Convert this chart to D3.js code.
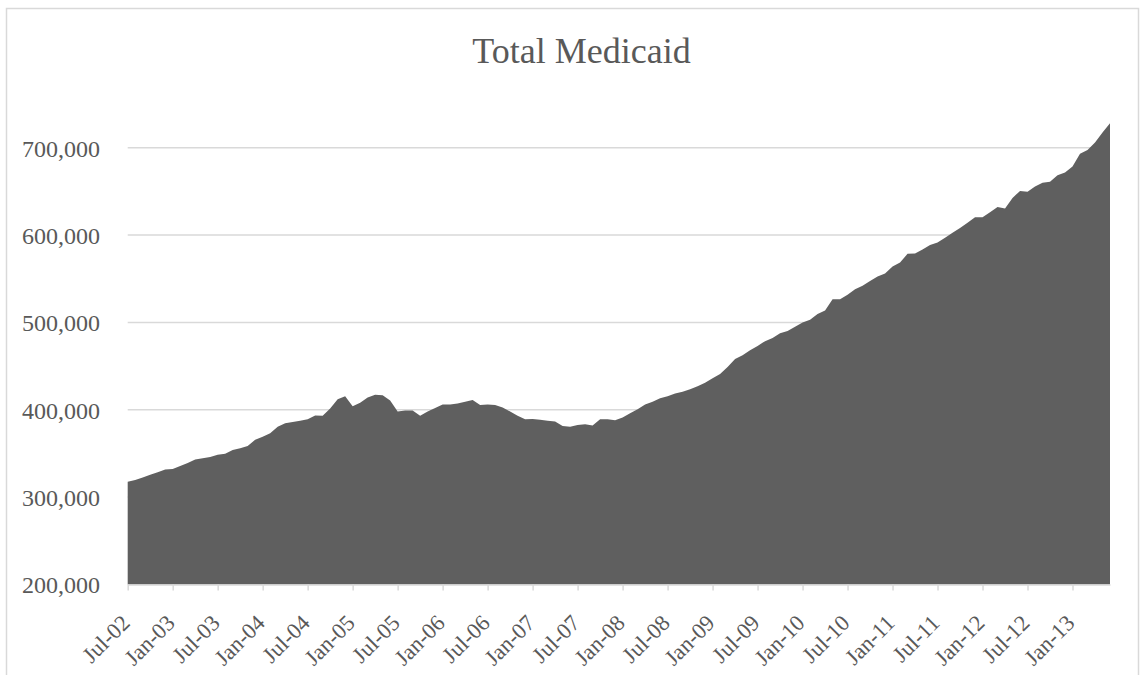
<!DOCTYPE html>
<html>
<head>
<meta charset="utf-8">
<script src="https://cdn.jsdelivr.net/npm/d3@7"></script>
<style>
  html, body { margin: 0; padding: 0; background: #ffffff; }
  svg { display: block; }
  text { font-family: "Liberation Serif", "Times New Roman", serif; fill: #595959; }
</style>
</head>
<body>
<svg id="chart" width="1146" height="675"></svg>
<script>
// Monthly enrollment, Jul 2002 through Jun 2013
const startMonth = "2002-07";
const enrollment = [
  317500, 319500, 322500, 325500, 328500, 331500, 332000, 335500, 339000, 343000, 344500, 346000,
  348500, 349500, 354000, 356000, 358500, 365500, 369000, 373000, 380500, 384500, 386000, 387500,
  389000, 393500, 393000, 401500, 412000, 415500, 404000, 408000, 414000, 417000, 416500, 410500,
  398000, 399000, 399000, 393000, 398000, 402000, 406000, 406000, 407000, 409000, 411000, 405500,
  406000, 405500, 402500, 398000, 393000, 389000, 389500, 388500, 387500, 386500, 381500, 380500,
  382500, 383500, 382000, 389000, 389000, 388000, 391000, 396000, 400500, 406000, 409000, 413000,
  415500, 418500, 420500, 423500, 427000, 431000, 436000, 441000, 449000, 458000, 462500, 468000,
  473000, 478500, 482000, 487500, 490000, 495000, 500000, 503000, 509500, 513500, 526500, 526500,
  531500, 538000, 542000, 547500, 552500, 556000, 564000, 568500, 578500, 579000, 583500, 588500,
  591500, 597000, 602500, 608000, 614000, 620500, 620500, 626000, 632000, 630500, 642500, 650500,
  649500, 655500, 660000, 661000, 668500, 671500, 678500, 693000, 697500, 706000, 717500, 728000
];
const xTickLabels = [
  "Jul-02", "Jan-03", "Jul-03", "Jan-04", "Jul-04", "Jan-05", "Jul-05", "Jan-06", "Jul-06",
  "Jan-07", "Jul-07", "Jan-08", "Jul-08", "Jan-09", "Jul-09", "Jan-10", "Jul-10", "Jan-11",
  "Jul-11", "Jan-12", "Jul-12", "Jan-13"
];
const yTickValues = [200000, 300000, 400000, 500000, 600000, 700000];
const chartTitle = "Total Medicaid";

const svg = d3.select("#chart");
const W = 1146, H = 675;

// chart frame
svg.append("rect")
  .attr("x", 6.5).attr("y", 8.5)
  .attr("width", 1132).attr("height", 680)
  .attr("fill", "#ffffff")
  .attr("stroke", "#d9d9d9")
  .attr("stroke-width", 1.5);

const plot = { left: 127.7, right: 1110, bottom: 584.4 };

const x = d3.scaleLinear()
  .domain([0, enrollment.length - 1])
  .range([plot.left, plot.right]);

const y = d3.scaleLinear()
  .domain([200000, 700000])
  .range([plot.bottom, 147.7]);

// horizontal gridlines
svg.append("g")
  .selectAll("line")
  .data(yTickValues.filter(v => v > 200000))
  .join("line")
  .attr("x1", plot.left).attr("x2", plot.right)
  .attr("y1", d => y(d)).attr("y2", d => y(d))
  .attr("stroke", "#d9d9d9")
  .attr("stroke-width", 1.5);

// area
const area = d3.area()
  .x((d, i) => x(i))
  .y0(y(200000))
  .y1(d => y(d));

svg.append("path")
  .datum(enrollment)
  .attr("d", area)
  .attr("fill", "#5f5f5f");

// y axis labels
const fmt = d3.format(",");
const yAxis = d3.axisLeft(y)
  .tickValues(yTickValues)
  .tickFormat(fmt)
  .tickSize(0)
  .tickPadding(0);
const gy = svg.append("g")
  .attr("transform", `translate(100,0)`)
  .call(yAxis);
gy.select(".domain").remove();
gy.selectAll("text")
  .attr("font-family", "Liberation Serif, Times New Roman, serif")
  .attr("font-size", 24)
  .attr("fill", "#595959")
  .attr("dy", "0.35em");

// x axis: every sixth month gets a tick and a label
const tickIdx = xTickLabels.map((_, k) => k * 6);
const xAxis = d3.axisBottom(x)
  .tickValues(tickIdx)
  .tickFormat((d, k) => xTickLabels[k])
  .tickSize(6)
  .tickSizeOuter(0);
const gx = svg.append("g")
  .attr("transform", `translate(0,${plot.bottom})`)
  .call(xAxis);
gx.select(".domain")
  .attr("stroke", "#d9d9d9")
  .attr("stroke-width", 1.5);
gx.selectAll(".tick line")
  .attr("stroke", "#d9d9d9")
  .attr("stroke-width", 1.5);
gx.selectAll(".tick text")
  .attr("font-family", "Liberation Serif, Times New Roman, serif")
  .attr("font-size", 22.5)
  .attr("fill", "#595959")
  .attr("text-anchor", "end")
  .attr("x", 0).attr("y", 0).attr("dy", 0)
  .attr("transform", "translate(3,40) rotate(-45)");

// title
svg.append("text")
  .attr("x", 581.5)
  .attr("y", 63)
  .attr("text-anchor", "middle")
  .attr("font-size", 36)
  .attr("fill", "#595959")
  .text(chartTitle);
</script>
</body>
</html>
